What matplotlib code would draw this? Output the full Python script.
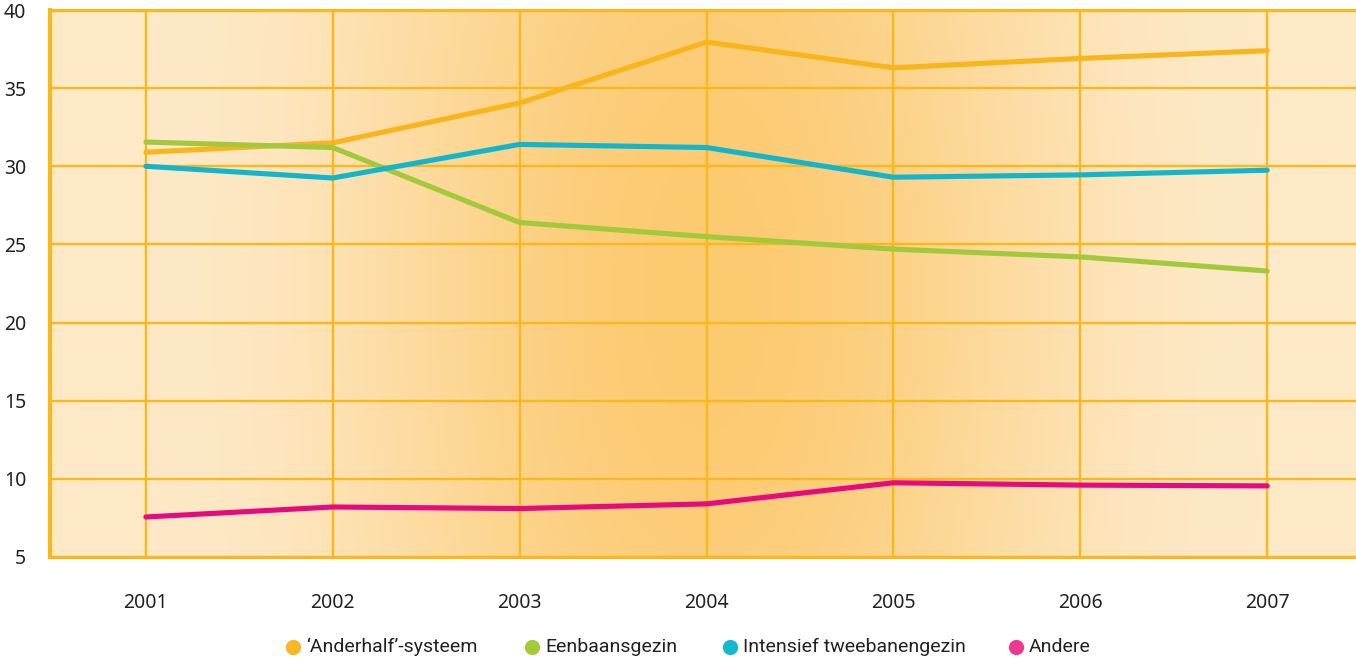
import numpy as np
import matplotlib
matplotlib.use("Agg")
import matplotlib.pyplot as plt
from matplotlib.colors import to_rgb
from matplotlib.lines import Line2D

years = [2001, 2002, 2003, 2004, 2005, 2006, 2007]
anderhalf = [30.9, 31.5, 34.05, 37.95, 36.3, 36.9, 37.4]
eenbaans = [31.55, 31.2, 26.4, 25.5, 24.7, 24.2, 23.3]
intensief = [30.0, 29.25, 31.4, 31.2, 29.3, 29.45, 29.75]
andere = [7.56, 8.2, 8.1, 8.4, 9.75, 9.6, 9.55]

series_names = ["\u2018Anderhalf\u2019-systeem", "Eenbaansgezin", "Intensief tweebanengezin", "Andere"]
series_values = [anderhalf, eenbaans, intensief, andere]
line_colors = ["#f9b51c", "#a2c83c", "#12b6cc", "#e8087f"]
marker_colors = ["#fbb623", "#a4c93b", "#14b8cf", "#ec3a8f"]
yticks = [5, 10, 15, 20, 25, 30, 35, 40]

W, H = 1356, 659
fig = plt.figure(figsize=(W / 100, H / 100), dpi=100)
ax = fig.add_axes([50 / W, 1 - 557 / H, 1 - 50 / W, (557 - 10) / H])

xmin, xmax = 2000.487, 2007.475
ymin, ymax = 5, 40
ax.set_xlim(xmin, xmax)
ax.set_ylim(ymin, ymax)

# background gradient
nx, ny = 600, 200
gx = np.linspace(xmin, xmax, nx)
gy = np.linspace(ymin, ymax, ny)
GX, GY = np.meshgrid(gx, gy)
dx = (GX - 2004.0) / 3.0
dy = (GY - 22.0) / 80.0
d = np.clip(np.sqrt(dx ** 2 + dy ** 2), 0, 1)
t = 0.5 * (1 + np.cos(np.pi * d))
light = np.array(to_rgb("#fee9c7"))
dark = np.array(to_rgb("#fcca70"))
img = light[None, None, :] * (1 - t[..., None]) + dark[None, None, :] * t[..., None]
ax.imshow(img, extent=[xmin, xmax, ymin, ymax], origin="lower", aspect="auto", zorder=0, interpolation="bilinear")

grid_c = "#f9b81c"
for yv in yticks:
    ax.axhline(yv, color=grid_c, lw=1.7, zorder=1)
for xv in years:
    ax.axvline(xv, color=grid_c, lw=1.7, zorder=1)

for vals, c in zip(series_values, line_colors):
    ax.plot(years, vals, color=c, lw=3.7, solid_capstyle="round", solid_joinstyle="round", zorder=3)

ax.spines["right"].set_visible(False)
ax.spines["left"].set_color(grid_c)
ax.spines["left"].set_linewidth(3)
ax.spines["top"].set_color(grid_c)
ax.spines["top"].set_linewidth(2.3)
ax.spines["bottom"].set_color(grid_c)
ax.spines["bottom"].set_linewidth(2.3)

ax.set_yticks(yticks)
ax.set_yticklabels([str(v) for v in yticks], fontsize=14, family="Noto Sans", color="#222222")
ax.set_xticks(years)
ax.set_xticklabels([str(v) for v in years], fontsize=14, family="Noto Sans", color="#222222")
ax.tick_params(axis="both", length=0)
ax.tick_params(axis="y", pad=17)
ax.tick_params(axis="x", pad=26)

# legend
leg_marker_x = [293, 532, 730, 1016]
leg_y = 647
for mx, name, mc in zip(leg_marker_x, series_names, marker_colors):
    fig.add_artist(Line2D([mx / W], [1 - leg_y / H], marker="o", markersize=11, color=mc,
                          markeredgewidth=0, linestyle="none", transform=fig.transFigure))
    fig.text((mx + 13) / W, 1 - leg_y / H, name, fontsize=14, family="Roboto",
             color="#222222", va="center", ha="left")

fig.savefig("out.png", dpi=100)
